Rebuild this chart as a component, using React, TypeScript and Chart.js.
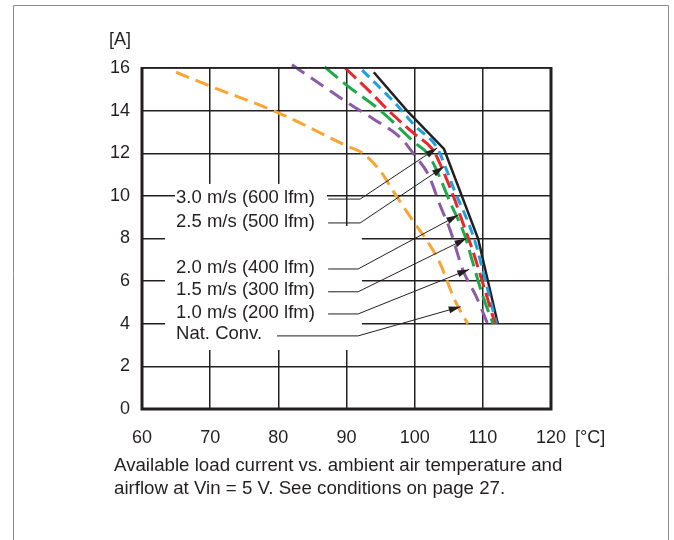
import React, { useEffect, useRef } from "react";
import { Chart, registerables } from "chart.js";

Chart.register(...registerables);

// ---- data (temperature °C, current A) ----
const natConvT = [65, 70, 80, 90, 92.4, 95, 97, 99.6, 101.8, 103.7, 105.9, 107.8];
const natConvA = [15.8, 15.15, 13.9, 12.35, 12.0, 11.15, 10.15, 8.9, 7.9, 6.85, 5.1, 4.0];

const air10T = [82, 86.8, 90.5, 94, 98, 100, 102, 103.8, 105.2, 107.1, 109, 110.7];
const air10A = [16.15, 15.1, 14.3, 13.6, 12.7, 11.9, 11.0, 9.5, 8.4, 6.5, 5.3, 4.0];

const air15T = [86.8, 90, 95, 100, 102, 103.5, 105.2, 107.4, 108.5, 110, 111.5];
const air15A = [16.05, 15.2, 14.0, 12.5, 11.95, 11.0, 9.7, 8.1, 6.9, 5.3, 4.0];

const air20T = [89.8, 93.4, 96.5, 100, 102.7, 104, 105.9, 107.1, 108.5, 110, 111.8];
const air20A = [16.0, 14.9, 13.9, 12.9, 12.15, 11.3, 9.8, 8.7, 7.45, 5.9, 4.0];

const air25T = [92.3, 94.5, 97, 100, 103.3, 104.7, 105.9, 107, 108.1, 109.1, 110, 111, 112];
const air25A = [15.9, 15.2, 14.4, 13.3, 12.25, 11.2, 10.2, 9.4, 8.55, 7.6, 6.5, 5.25, 4.0];

const air30T = [94, 99, 104.3, 109.3, 112.2];
const air30A = [15.8, 13.95, 12.2, 8.0, 4.0];

// ---- annotation labels (data units) ----
const labelTexts = [
  "3.0 m/s (600 lfm)",
  "2.5 m/s (500 lfm)",
  "2.0 m/s (400 lfm)",
  "1.5 m/s (300 lfm)",
  "1.0 m/s (200 lfm)",
  "Nat. Conv.",
];
const labelX = 65;
const leaderY = [9.85, 8.73, 6.57, 5.5, 4.46, 3.43];
const leaderStartX = [87.3, 87.3, 87.3, 87.3, 87.3, 79.8];
const leaderElbowX = [92.0, 92.0, 91.7, 91.7, 91.7, 91.7];
const arrowTipX = [103.3, 104.3, 106.4, 107.6, 108.0, 106.75];
const arrowTipY = [12.25, 11.37, 9.1, 8.0, 6.55, 4.8];

// white masks behind labels: [x0, x1, y0, y1]
const maskBoxes = [
  [64.84, 87.14, 8.3, 10.56],
  [63.37, 92.27, 2.77, 8.59],
];

const xTicksMin = 60;
const xTicksMax = 120;
const yTicksMin = 0;
const yTicksMax = 16;

const caption = [
  "Available load current vs. ambient air temperature and",
  "airflow at Vin = 5 V. See conditions on page 27.",
];

const FONT = '"Liberation Sans", Arial, Helvetica, sans-serif';
const INK = "#231f20";

const pts = (t: number[], a: number[]) => t.map((v, i) => ({ x: v, y: a[i] }));

export default function App() {
  const ref = useRef<HTMLCanvasElement | null>(null);

  useEffect(() => {
    if (!ref.current) return;

    const annot = {
      id: "annot",
      beforeDatasetsDraw(chart: any) {
        const { ctx, scales } = chart;
        const x = scales.x, y = scales.y;
        ctx.save();
        ctx.fillStyle = "#ffffff";
        maskBoxes.forEach(([x0, x1, y0, y1]) => {
          const px0 = x.getPixelForValue(x0);
          const px1 = x.getPixelForValue(x1);
          const py0 = y.getPixelForValue(y1);
          const py1 = y.getPixelForValue(y0);
          ctx.fillRect(px0, py0, px1 - px0, py1 - py0);
        });
        ctx.restore();
      },
      afterDraw(chart: any) {
        const { ctx, scales, chartArea } = chart;
        const x = scales.x, y = scales.y;
        const { left, right, top, bottom } = chartArea;
        ctx.save();

        // outer frame
        ctx.strokeStyle = "#8a8a8a";
        ctx.lineWidth = 1;
        ctx.beginPath();
        ctx.moveTo(13.5, 545);
        ctx.lineTo(13.5, 5.5);
        ctx.lineTo(668.5, 5.5);
        ctx.lineTo(668.5, 545);
        ctx.stroke();

        // plot borders
        ctx.strokeStyle = INK;
        ctx.lineWidth = 1.5;
        ctx.beginPath();
        ctx.moveTo(left, top);
        ctx.lineTo(right, top);
        ctx.stroke();
        ctx.lineWidth = 3;
        ctx.beginPath();
        ctx.moveTo(left, top - 1);
        ctx.lineTo(left, bottom);
        ctx.lineTo(right, bottom);
        ctx.lineTo(right, top - 1);
        ctx.stroke();

        // unit labels
        ctx.fillStyle = INK;
        ctx.font = `18px ${FONT}`;
        ctx.textBaseline = "middle";
        ctx.textAlign = "left";
        ctx.fillText("[A]", left - 33, top - 28);
        ctx.fillText("[°C]", right + 24, bottom + 29);

        // leader labels
        ctx.font = `18.5px ${FONT}`;
        labelTexts.forEach((t, i) => {
          const ly = y.getPixelForValue(leaderY[i]);
          ctx.fillStyle = INK;
          ctx.textBaseline = "middle";
          ctx.fillText(t, x.getPixelForValue(labelX), ly - 1.5);

          const sx = x.getPixelForValue(leaderStartX[i]);
          const ex = x.getPixelForValue(leaderElbowX[i]);
          const tx = x.getPixelForValue(arrowTipX[i]);
          const ty = y.getPixelForValue(arrowTipY[i]);
          ctx.strokeStyle = INK;
          ctx.lineWidth = 1;
          ctx.beginPath();
          ctx.moveTo(sx, ly);
          ctx.lineTo(ex, ly);
          ctx.lineTo(tx, ty);
          ctx.stroke();

          const ang = Math.atan2(ty - ly, tx - ex);
          const L = 12, W = 3.5;
          const bx = tx - L * Math.cos(ang);
          const by = ty - L * Math.sin(ang);
          ctx.beginPath();
          ctx.moveTo(tx, ty);
          ctx.lineTo(bx + W * Math.sin(ang), by - W * Math.cos(ang));
          ctx.lineTo(bx - W * Math.sin(ang), by + W * Math.cos(ang));
          ctx.closePath();
          ctx.fill();
        });

        // caption
        ctx.font = `18.7px ${FONT}`;
        ctx.textBaseline = "alphabetic";
        ctx.fillStyle = INK;
        ctx.fillText(caption[0], 114, 471);
        ctx.fillText(caption[1], 114, 494);

        ctx.restore();
      },
    };

    const ds = (label: string, data: any[], color: string, dash: number[], width = 3, mono = true) => ({
      label,
      data,
      borderColor: color,
      backgroundColor: color,
      borderWidth: width,
      borderDash: dash,
      pointRadius: 0,
      fill: false,
      clip: false as any,
      cubicInterpolationMode: mono ? ("monotone" as const) : ("default" as const),
      tension: 0,
    });

    const chart = new Chart(ref.current, {
      type: "line",
      data: {
        datasets: [
          ds("Nat. Conv.", pts(natConvT, natConvA), "#f8a532", [14, 7]),
          ds("1.0 m/s", pts(air10T, air10A), "#8c5ba8", [15, 8]),
          ds("1.5 m/s", pts(air15T, air15A), "#1faa4a", [17, 7]),
          ds("2.0 m/s", pts(air20T, air20A), "#e8262b", [15, 6]),
          ds("2.5 m/s", pts(air25T, air25A), "#1ca2de", [10, 6]),
          ds("3.0 m/s", pts(air30T, air30A), INK, [], 2.5, false),
        ],
      },
      options: {
        responsive: false,
        animation: false,
        devicePixelRatio: 1,
        layout: { padding: { left: 0, right: 123, top: 68, bottom: 0 } },
        plugins: { legend: { display: false }, tooltip: { enabled: false } },
        scales: {
          x: {
            type: "linear",
            min: xTicksMin,
            max: xTicksMax,
            ticks: { stepSize: 10, padding: 18, color: INK, font: { family: FONT, size: 18 }, maxRotation: 0 },
            grid: { color: INK, lineWidth: 1.5, drawTicks: false },
            border: { display: false },
            afterFit: (s: any) => {
              s.height = 131;
            },
          },
          y: {
            type: "linear",
            min: yTicksMin,
            max: yTicksMax,
            ticks: { stepSize: 2, padding: 12, color: INK, font: { family: FONT, size: 18 } },
            grid: { color: INK, lineWidth: 1.5, drawTicks: false },
            border: { display: false },
            afterFit: (s: any) => {
              s.width = 142;
            },
          },
        },
      },
      plugins: [annot],
    });

    return () => chart.destroy();
  }, []);

  return (
    <div style={{ position: "absolute", left: 0, top: 0, width: 674, height: 540, background: "#fff" }}>
      <canvas ref={ref} width={674} height={540} style={{ width: 674, height: 540, display: "block" }} />
    </div>
  );
}
